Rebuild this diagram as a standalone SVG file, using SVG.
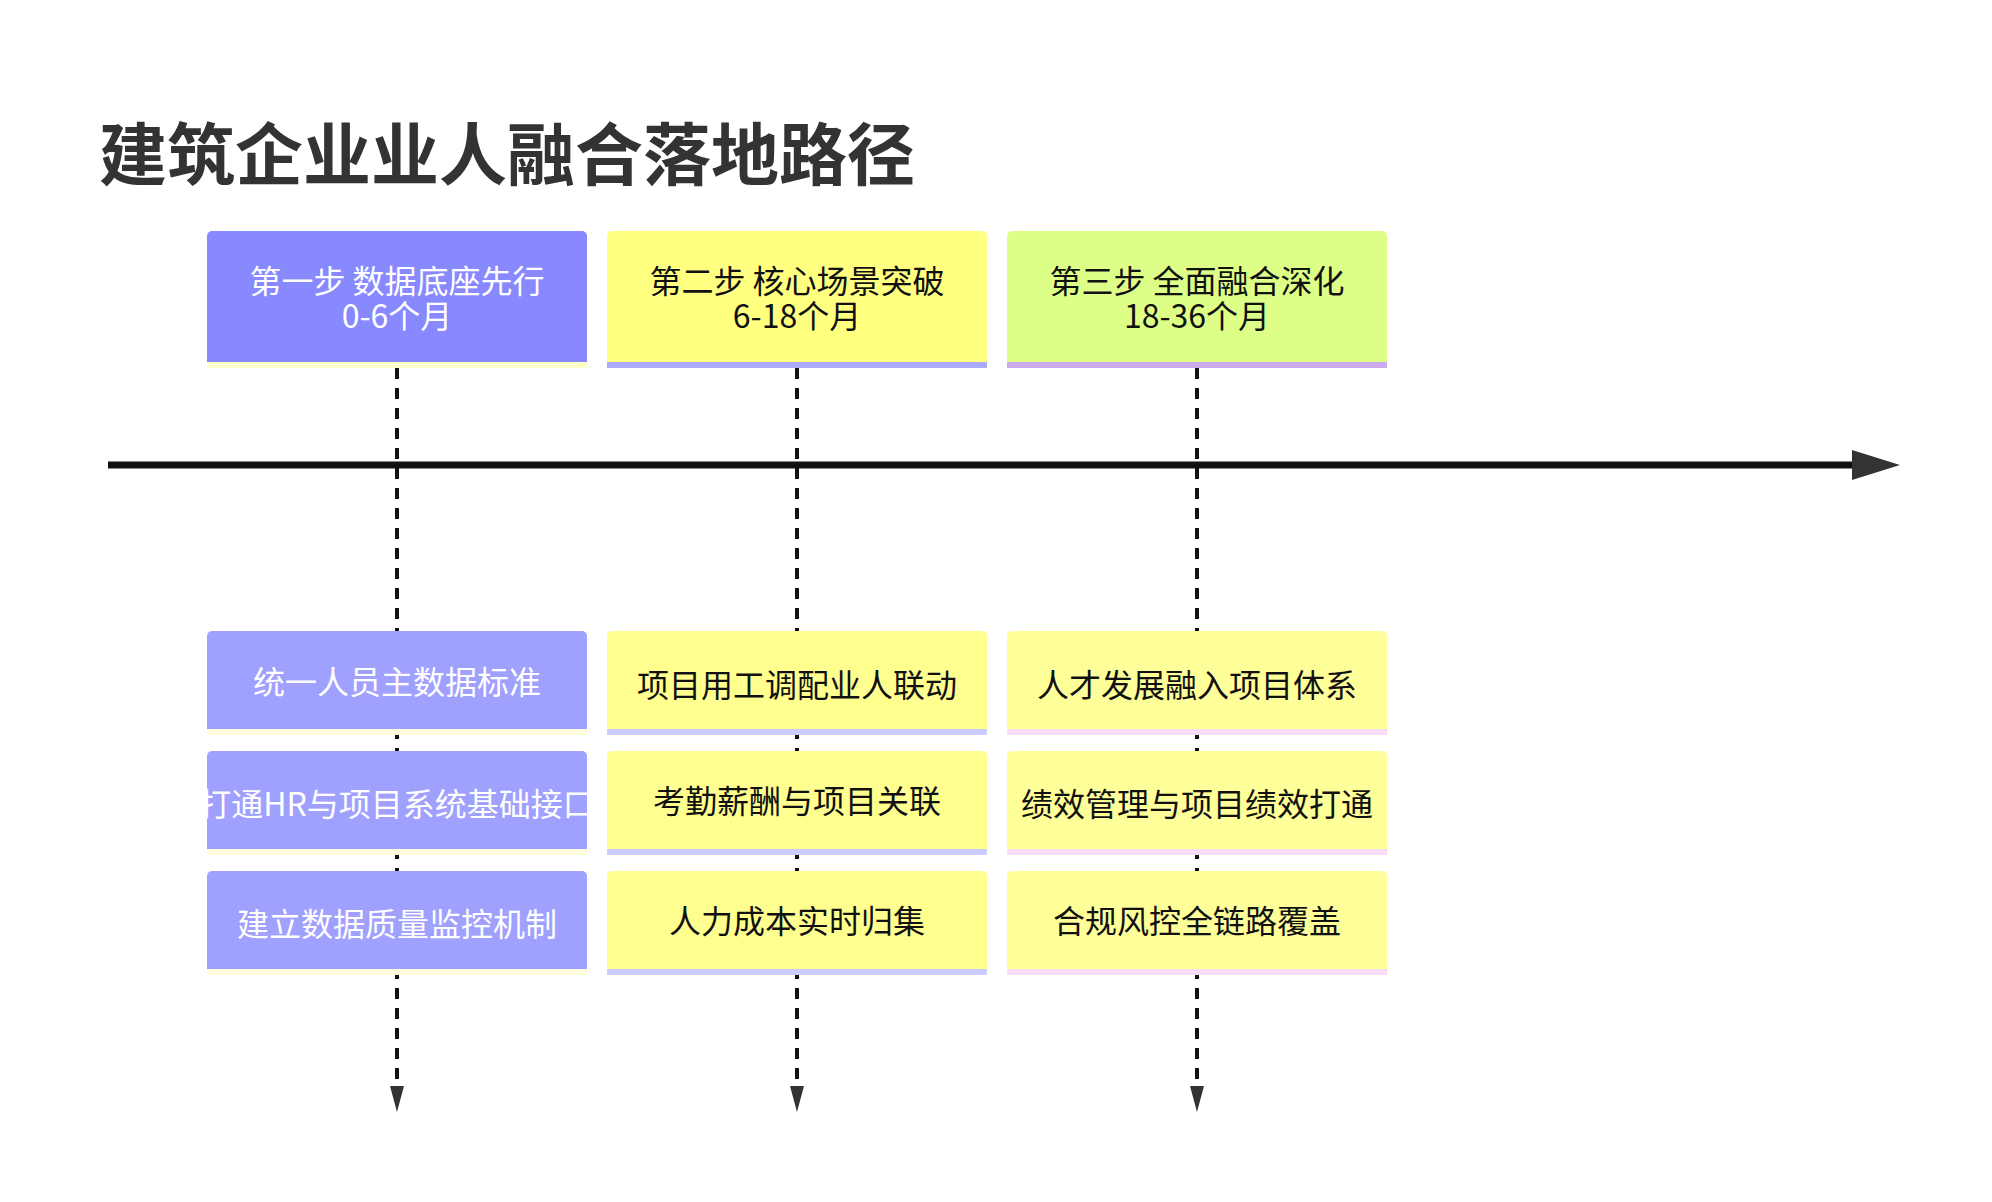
<svg xmlns="http://www.w3.org/2000/svg" width="1992" height="1202" viewBox="0 0 1992 1202">
<style>
text{font-family:"Noto Sans CJK SC","Noto Sans",sans-serif;text-anchor:middle;dominant-baseline:central;font-size:32px}
.w{fill:#fff}.k{fill:#111}
.dash{stroke:#111;stroke-width:4;stroke-dasharray:11 9;fill:none}
</style>
<defs>
<clipPath id="c1"><rect x="207" y="751" width="380" height="100"/></clipPath>
</defs>
<rect width="1992" height="1202" fill="#fff"/>
<text x="99" y="150" style="text-anchor:start;font-size:68px;font-weight:bold;fill:#333">建筑企业业人融合落地路径</text>
<g id="connectors">
<line x1="108" y1="465" x2="1860" y2="465" stroke="#111" stroke-width="7"/>
<path d="M1852,450L1900,465L1852,480z" fill="#333"/>
<path class="dash" d="M397,368V1092"/><path class="dash" d="M797,368V1092"/><path class="dash" d="M1197,368V1092"/>
<path d="M390,1086L404,1086L397,1112z" fill="#333"/><path d="M790,1086L804,1086L797,1112z" fill="#333"/><path d="M1190,1086L1204,1086L1197,1112z" fill="#333"/>
</g>
<g id="step1"><rect x="207" y="231" width="380" height="137" rx="5" fill="#8888ff"/><rect x="207" y="362" width="380" height="6" fill="#ffffcc"/><text class="w" x="397" y="279">第一步 数据底座先行</text><text class="w" x="397" y="314">0-6个月</text></g>
<g id="step2"><rect x="607" y="231" width="380" height="137" rx="5" fill="#ffff80"/><rect x="607" y="362" width="380" height="6" fill="#aaaaff"/><text class="k" x="797" y="279">第二步 核心场景突破</text><text class="k" x="797" y="314">6-18个月</text></g>
<g id="step3"><rect x="1007" y="231" width="380" height="137" rx="5" fill="#ddff88"/><rect x="1007" y="362" width="380" height="6" fill="#ccaaee"/><text class="k" x="1197" y="279">第三步 全面融合深化</text><text class="k" x="1197" y="314">18-36个月</text></g>

<g id="a1"><rect x="207" y="631" width="380" height="104" rx="5" fill="#a0a0ff"/><rect x="207" y="729" width="380" height="6" fill="#ffffdd"/><text class="w" x="397" y="680">统一人员主数据标准</text></g>
<g id="a2"><rect x="207" y="751" width="380" height="104" rx="5" fill="#a0a0ff"/><rect x="207" y="849" width="380" height="6" fill="#ffffdd"/><text class="w" x="397" y="802" clip-path="url(#c1)">打通HR与项目系统基础接口</text></g>
<g id="a3"><rect x="207" y="871" width="380" height="104" rx="5" fill="#a0a0ff"/><rect x="207" y="969" width="380" height="6" fill="#ffffdd"/><text class="w" x="397" y="922">建立数据质量监控机制</text></g>

<g id="b1"><rect x="607" y="631" width="380" height="104" rx="5" fill="#ffff90"/><rect x="607" y="729" width="380" height="6" fill="#ccccff"/><text class="k" x="797" y="683">项目用工调配业人联动</text></g>
<g id="b2"><rect x="607" y="751" width="380" height="104" rx="5" fill="#ffff90"/><rect x="607" y="849" width="380" height="6" fill="#ccccff"/><text class="k" x="797" y="799">考勤薪酬与项目关联</text></g>
<g id="b3"><rect x="607" y="871" width="380" height="104" rx="5" fill="#ffff90"/><rect x="607" y="969" width="380" height="6" fill="#ccccff"/><text class="k" x="797" y="919">人力成本实时归集</text></g>

<g id="c1g"><rect x="1007" y="631" width="380" height="104" rx="5" fill="#ffff99"/><rect x="1007" y="729" width="380" height="6" fill="#f8ddf8"/><text class="k" x="1197" y="683">人才发展融入项目体系</text></g>
<g id="c2g"><rect x="1007" y="751" width="380" height="104" rx="5" fill="#ffff99"/><rect x="1007" y="849" width="380" height="6" fill="#f8ddf8"/><text class="k" x="1197" y="802">绩效管理与项目绩效打通</text></g>
<g id="c3g"><rect x="1007" y="871" width="380" height="104" rx="5" fill="#ffff99"/><rect x="1007" y="969" width="380" height="6" fill="#f8ddf8"/><text class="k" x="1197" y="919">合规风控全链路覆盖</text></g>
</svg>
